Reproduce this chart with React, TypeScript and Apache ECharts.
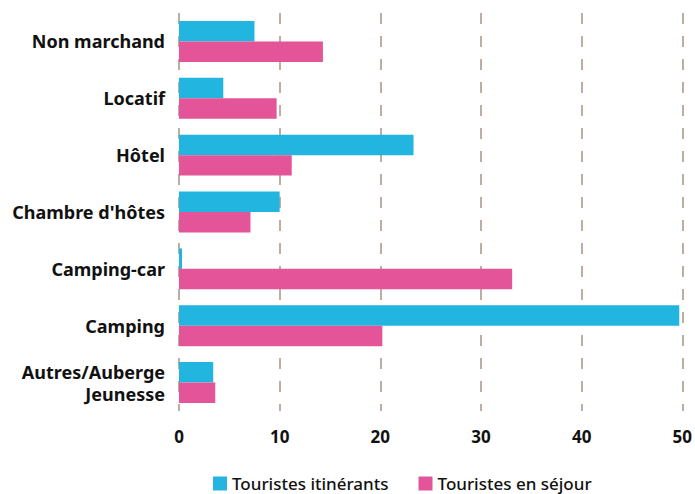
import React, { useEffect, useRef } from "react";
import * as echarts from "echarts";

const categories = [
  "Non marchand",
  "Locatif",
  "Hôtel",
  "Chambre d'hôtes",
  "Camping-car",
  "Camping",
  "Autres/Auberge\nJeunesse",
];
const itinerants = [7.5, 4.4, 23.3, 10.0, 0.3, 49.7, 3.4];
const sejour = [14.3, 9.7, 11.2, 7.1, 33.1, 20.2, 3.6];
const xTicks = [0, 10, 20, 30, 40, 50];

const FONT = "'Noto Sans', sans-serif";

export default function App() {
  const ref = useRef<HTMLDivElement>(null);
  useEffect(() => {
    if (!ref.current) return;
    const chart = echarts.init(ref.current, undefined, { renderer: "svg" });
    chart.setOption({
      animation: false,
      grid: { left: 179, right: 12, top: 13, bottom: 83, containLabel: false },
      legend: {
        top: 470,
        left: 208,
        padding: 5,
        itemWidth: 14,
        itemHeight: 14,
        itemGap: 30,
        icon: "rect",
        textStyle: {
          fontFamily: FONT,
          fontSize: 17,
          lineHeight: 17,
          fontWeight: 500,
          color: "#111",
        },
        data: ["Touristes itinérants", "Touristes en séjour"],
      },
      xAxis: {
        type: "value",
        min: xTicks[0],
        max: xTicks[xTicks.length - 1],
        interval: 10,
        axisLine: { show: false },
        axisTick: { show: false },
        axisLabel: {
          fontFamily: FONT,
          fontSize: 17,
          fontWeight: "bold",
          color: "#111",
          margin: 17,
        },
        splitLine: {
          show: true,
          lineStyle: { color: "#a89384", width: 1.5, type: [11, 12] },
        },
      },
      yAxis: {
        type: "category",
        inverse: true,
        data: categories,
        axisLine: { show: false },
        axisTick: { show: false },
        axisLabel: {
          fontFamily: FONT,
          fontSize: 18,
          fontWeight: "bold",
          color: "#111",
          margin: 14,
          lineHeight: 22,
          align: "right",
        },
      },
      series: [
        {
          name: "Touristes itinérants",
          type: "bar",
          data: itinerants,
          itemStyle: { color: "#22b5e0" },
          barGap: "0%",
          barCategoryGap: "28%",
        },
        {
          name: "Touristes en séjour",
          type: "bar",
          data: sejour,
          itemStyle: { color: "#e35598" },
          barGap: "0%",
          barCategoryGap: "28%",
        },
      ],
    });
    return () => chart.dispose();
  }, []);
  return <div ref={ref} style={{ width: 695, height: 494, position: "absolute", left: 0, top: 0 }} />;
}
